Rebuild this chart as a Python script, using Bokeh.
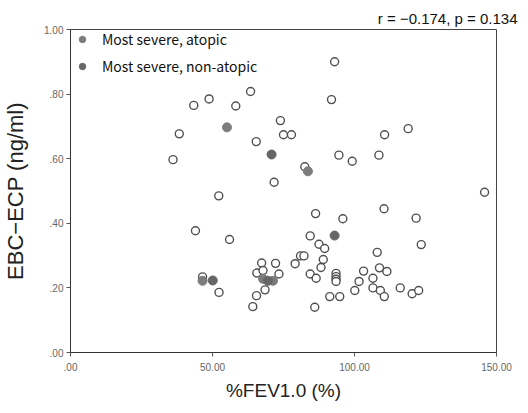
from bokeh.plotting import figure
from bokeh.models import Range1d, FixedTicker, Legend, LegendItem
from bokeh.embed import file_html
from bokeh.resources import INLINE

# ---- data ----
open_x = [93.0, 63.4, 48.8, 43.4, 58.2, 91.9, 73.9, 38.3, 118.9, 110.6, 75.0, 77.8, 65.4,
          36.1, 82.5, 94.5, 99.2, 108.6, 71.7, 52.2, 145.8, 86.3, 110.4, 95.9, 121.7,
          44.0, 56.0, 84.4, 87.5, 89.5, 123.5, 108.0, 81.0, 82.2, 89.0, 67.3, 72.2, 79.1,
          88.2, 65.6, 67.8, 73.4, 84.4, 86.5, 93.5, 93.5, 93.5, 93.5, 103.2, 108.8, 111.4,
          106.5, 101.6, 100.1, 106.5, 109.1, 110.5, 116.1, 120.3, 122.6, 91.3, 94.8, 86.0,
          68.5, 65.5, 64.2, 52.3, 46.5]
open_y = [0.900, 0.808, 0.785, 0.765, 0.763, 0.783, 0.718, 0.677, 0.693, 0.674, 0.674, 0.674, 0.653,
          0.597, 0.575, 0.611, 0.592, 0.611, 0.527, 0.485, 0.496, 0.430, 0.445, 0.414, 0.416,
          0.377, 0.350, 0.361, 0.335, 0.322, 0.334, 0.310, 0.299, 0.299, 0.288, 0.277, 0.276, 0.275,
          0.263, 0.246, 0.254, 0.243, 0.243, 0.230, 0.245, 0.235, 0.227, 0.220, 0.252, 0.262, 0.251,
          0.230, 0.220, 0.192, 0.200, 0.192, 0.173, 0.200, 0.182, 0.192, 0.173, 0.173, 0.140,
          0.194, 0.176, 0.142, 0.186, 0.234]

atopic_x = [55.1, 83.6, 46.5, 67.8, 71.3]
atopic_y = [0.697, 0.561, 0.222, 0.228, 0.222]
nonatopic_x = [70.8, 93.0, 50.1, 69.5]
nonatopic_y = [0.613, 0.362, 0.223, 0.222]

x_ticks = [0, 50, 100, 150]
x_tick_labels = [".00", "50.00", "100.00", "150.00"]
y_ticks = [0.0, 0.2, 0.4, 0.6, 0.8, 1.0]
y_tick_labels = [".00", ".20", ".40", ".60", ".80", "1.00"]

stat_text = "r = \u22120.174, p = 0.134"

p = figure(width=528, height=413, output_backend="svg", toolbar_location=None,
           x_range=Range1d(0, 150), y_range=Range1d(0, 1.0),
           min_border_left=68, min_border_right=32, min_border_top=29, min_border_bottom=61,
           title=stat_text)
p.title.align = "right"
p.title.offset = -21
p.title.standoff = 6
p.title.text_font = "Liberation Sans"
p.title.text_font_size = "15px"
p.title.text_font_style = "normal"
p.title.text_color = "#111111"

p.background_fill_color = "white"
p.border_fill_color = "white"
p.outline_line_color = "#444444"
p.outline_line_width = 1
p.xgrid.visible = False
p.ygrid.visible = False

open_r = p.scatter(open_x, open_y, size=8, fill_color="white", line_color="#505050", line_width=1.4)
at_r = p.scatter(atopic_x, atopic_y, size=9, fill_color="#7c7c7c", line_color="#7c7c7c", line_width=1)
non_r = p.scatter(nonatopic_x, nonatopic_y, size=9, fill_color="#666666", line_color="#666666", line_width=1)

for ax, ticks, labels in [(p.xaxis[0], x_ticks, x_tick_labels), (p.yaxis[0], y_ticks, y_tick_labels)]:
    ax.ticker = FixedTicker(ticks=ticks)
    ax.major_label_overrides = {t: l for t, l in zip(ticks, labels)}
    ax.minor_tick_line_color = None
    ax.major_tick_out = 4
    ax.major_tick_in = 0
    ax.axis_line_color = "#333333"
    ax.major_tick_line_color = "#555555"
    ax.major_label_text_font = "Liberation Sans"
    ax.major_label_text_font_size = "10px"
    ax.major_label_text_color = "#666666"
    ax.axis_label_text_font = "Liberation Sans"
    ax.axis_label_text_font_style = "normal"
    ax.axis_label_text_color = "#222222"

p.xaxis.axis_label = "%FEV1.0 (%)"
p.yaxis.axis_label = "EBC\u2212ECP (ng/ml)"
p.xaxis.axis_label_text_font_size = "19px"
p.yaxis.axis_label_text_font_size = "22px"
p.xaxis.major_label_standoff = 6
p.yaxis.major_label_standoff = 3
p.xaxis.axis_label_standoff = 6
p.yaxis.axis_label_standoff = 13

legend = Legend(items=[LegendItem(label="Most severe, atopic", renderers=[at_r]),
                       LegendItem(label="Most severe, non-atopic", renderers=[non_r])],
                location="top_left", margin=0, padding=0, spacing=7,
                glyph_width=24, glyph_height=16, label_height=16, label_standoff=8,
                border_line_color=None, background_fill_alpha=0,
                label_text_font="Noto Sans CJK JP", label_text_font_size="14px",
                label_text_color="#111111")
p.add_layout(legend, "center")

open("out.html", "w").write(file_html(p, INLINE))
